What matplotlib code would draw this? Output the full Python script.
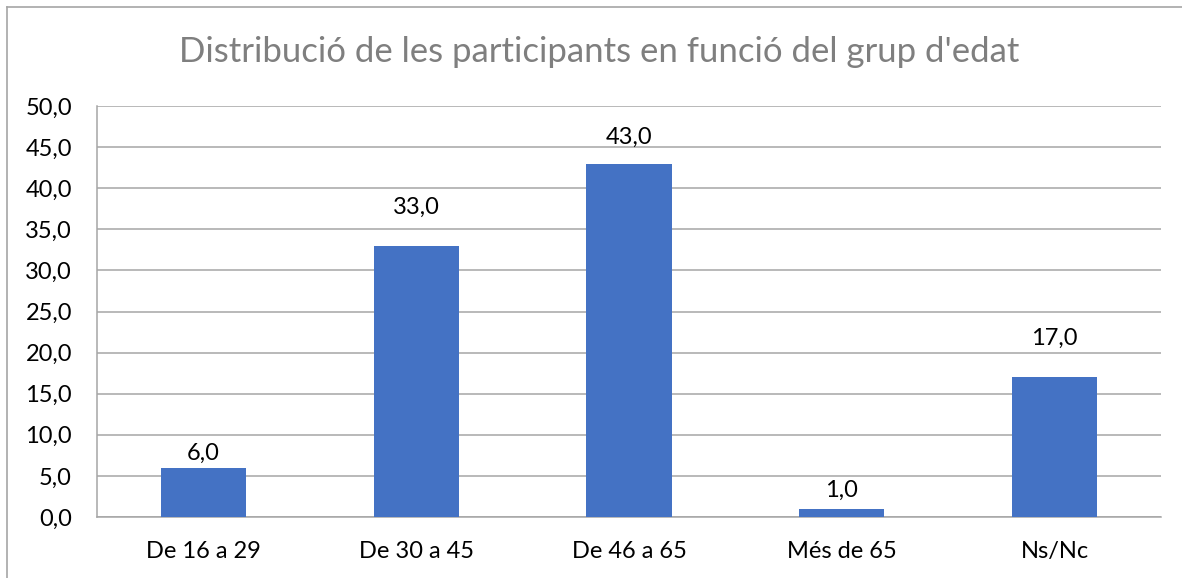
import matplotlib.pyplot as plt
from matplotlib.lines import Line2D

categories = ['De 16 a 29', 'De 30 a 45', 'De 46 a 65', 'Més de 65', 'Ns/Nc']
values = [6.0, 33.0, 43.0, 1.0, 17.0]
yticks = [0, 5, 10, 15, 20, 25, 30, 35, 40, 45, 50]

# label gap above bar top (points), as Excel placed them
label_gaps = [6, 23, 14.5, 8.5, 23]

plt.rcParams['font.family'] = ['Lato', 'DejaVu Sans']

fig = plt.figure(figsize=(11.82, 5.78), dpi=100)
ax = fig.add_axes([97/1182, 1 - 517/578, (1161-97)/1182, (517-106)/578])

x = range(len(categories))
ax.bar(x, values, width=0.4, color='#4472C4', zorder=3)
for xi, v, g in zip(x, values, label_gaps):
    ax.annotate(f'{v:.1f}'.replace('.', ','), (xi, v), xytext=(0, g),
                textcoords='offset points', ha='center', va='baseline',
                fontsize=17, color='black')

ax.set_xlim(-0.5, len(categories) - 0.5)
ax.set_ylim(0, 50)
ax.set_yticks(yticks)
ax.set_yticklabels([f'{t:.1f}'.replace('.', ',') for t in yticks])
ax.set_xticks(list(x))
ax.set_xticklabels(categories)
ax.tick_params(axis='both', length=0, labelsize=17, colors='black')
ax.tick_params(axis='x', pad=17)
ax.tick_params(axis='y', pad=18)
ax.grid(axis='y', color='#A6A6A6', lw=1.1, zorder=0)
for s in ['top', 'right']:
    ax.spines[s].set_visible(False)
ax.spines['left'].set_color('#A6A6A6')
ax.spines['bottom'].set_color('#A6A6A6')
ax.spines['left'].set_linewidth(1.1)
ax.spines['bottom'].set_linewidth(1.1)

fig.text(599/1182, 1 - 52/578, "Distribució de les participants en funció del grup d'edat",
         ha='center', va='center', fontsize=25, color='#7F7F7F')

# outer chart frame (only left and top edges visible)
fig.add_artist(Line2D([7/1182, 7/1182], [0, 1 - 7/578], color='#A6A6A6', lw=1.2))
fig.add_artist(Line2D([7/1182, 1], [1 - 7/578, 1 - 7/578], color='#A6A6A6', lw=1.2))

fig.savefig('out.png', dpi=100)
